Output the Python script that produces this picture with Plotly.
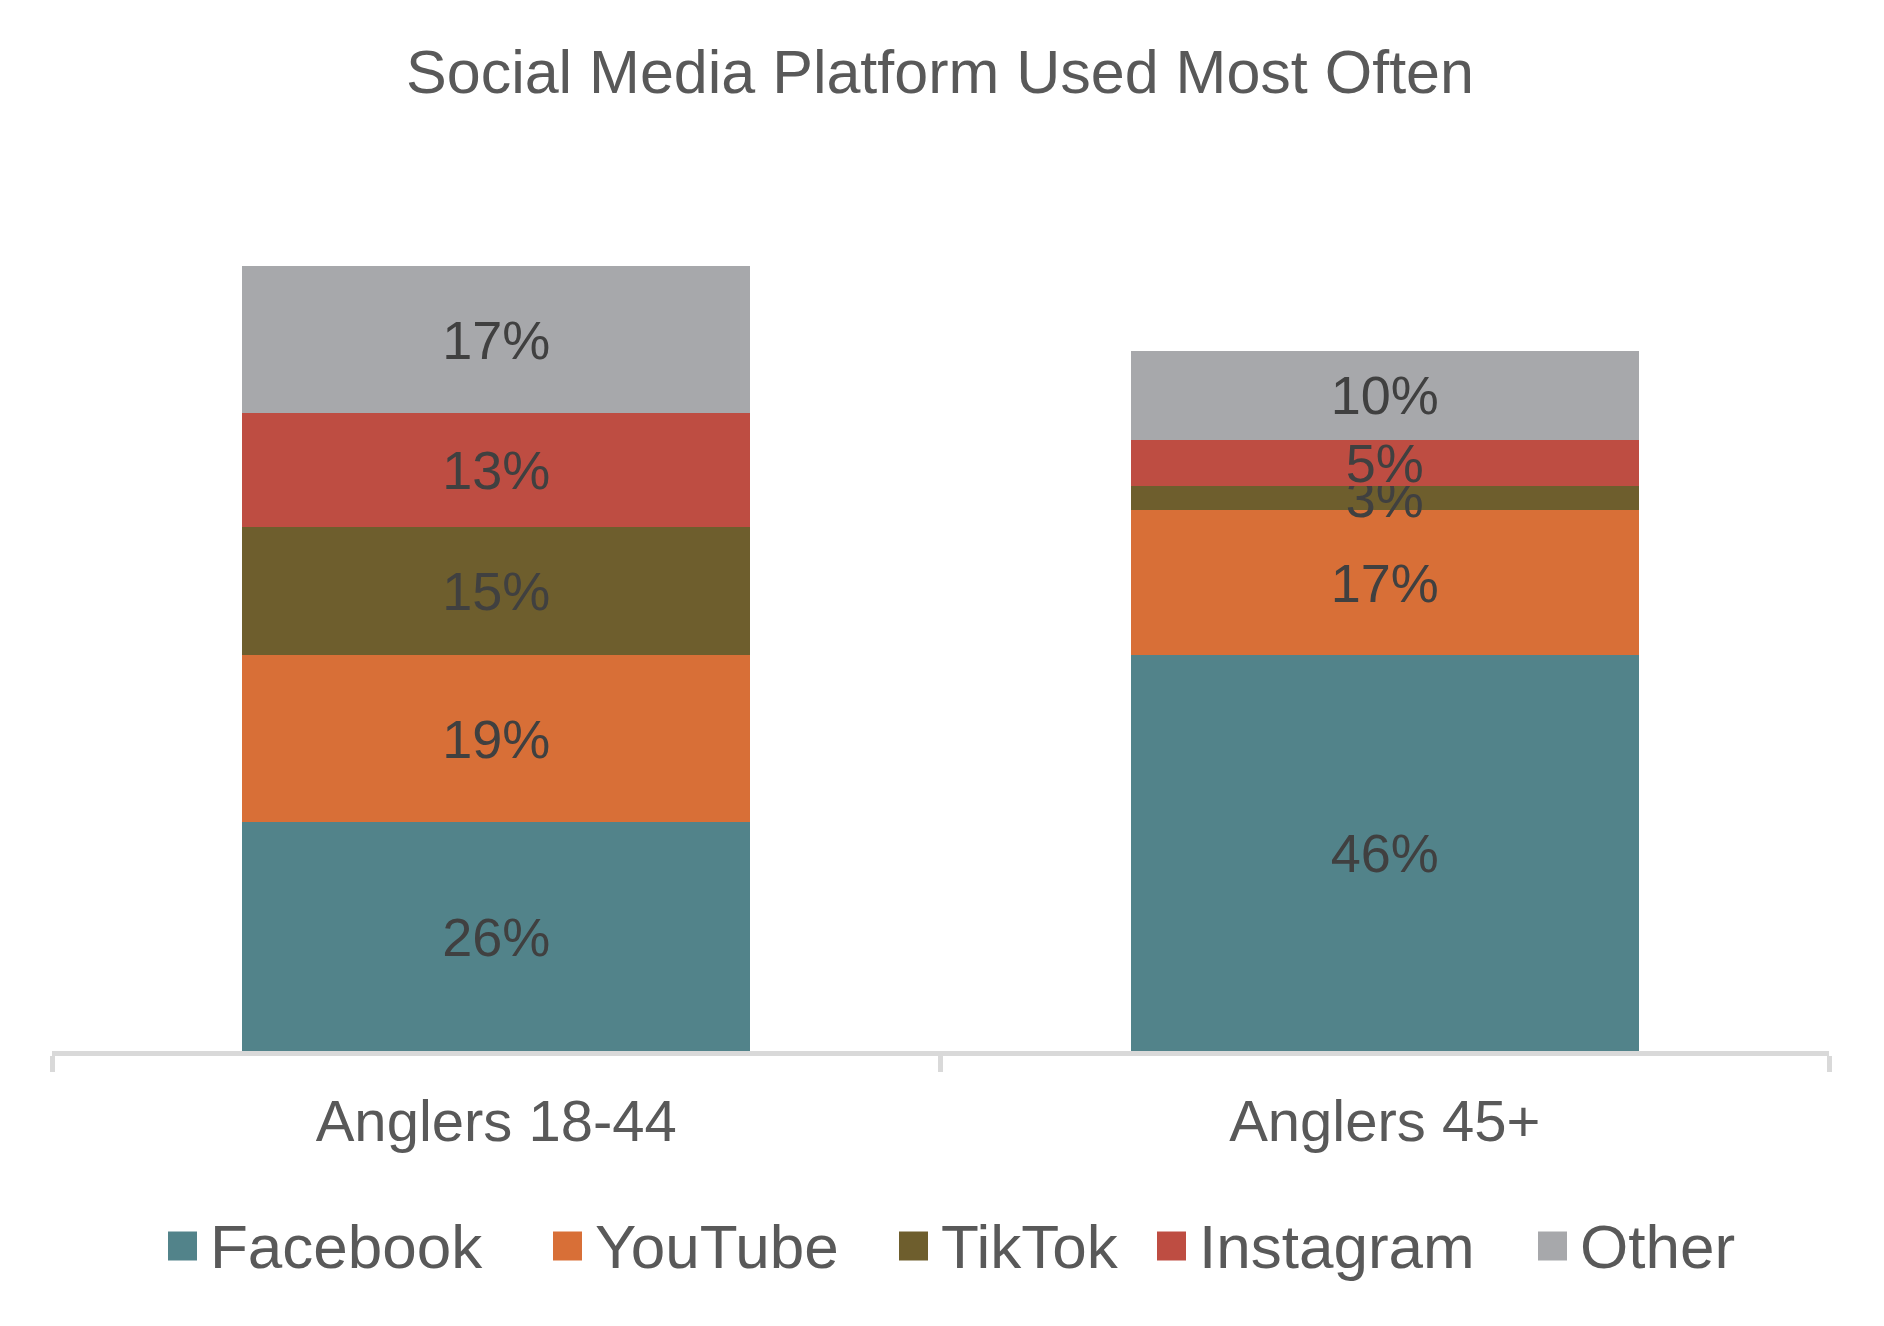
import plotly.graph_objects as go

# ---- data ----
categories = ["Anglers 18-44", "Anglers 45+"]
series_names = ["Facebook", "YouTube", "TikTok", "Instagram", "Other"]
facebook = [26.3, 45.5]
youtube = [19.2, 16.7]
tiktok = [14.7, 2.8]
instagram = [13.1, 5.2]
other = [16.9, 10.3]
series_values = [facebook, youtube, tiktok, instagram, other]

# ---- styles ----
colors = ["#52838A", "#D86F37", "#6E5E2D", "#BE4D42", "#A7A8AB"]
FONT = "Liberation Sans, Arial, sans-serif"
W, H = 1884, 1326
OFF = 8  # page body margin
ML, MT = 52 - OFF, 181 - OFF
PW, PH = 1777, 870
MR, MB = W - ML - PW, H - MT - PH

def px_x(x):
    return (x - OFF - ML) / PW

def px_y(y):
    return (MT + PH - (y - OFF)) / PH

fig = go.Figure()
for name, vals, col in zip(series_names, series_values, colors):
    fig.add_trace(go.Bar(
        x=categories, y=vals, name=name,
        marker=dict(color=col, line=dict(width=0)),
        text=[f"{v:.0f}%" for v in vals],
        textposition="inside", insidetextanchor="middle",
        textangle=0, constraintext="none",
        textfont=dict(family=FONT, size=54, color="#404040"),
        hoverinfo="skip", showlegend=False,
    ))

# custom legend (large square swatches)
legend_square_left = [168, 553, 899, 1157, 1538]
sq = 29
ly = 1246
for name, col, x0 in zip(series_names, colors, legend_square_left):
    fig.add_shape(type="rect", xref="paper", yref="paper",
                  x0=px_x(x0), x1=px_x(x0 + sq),
                  y0=px_y(ly + sq / 2), y1=px_y(ly - sq / 2),
                  fillcolor=col, line=dict(width=0))
    fig.add_annotation(xref="paper", yref="paper",
                       x=px_x(x0 + sq + 11), y=px_y(ly),
                       xanchor="left", yanchor="middle",
                       text=name, showarrow=False,
                       font=dict(family=FONT, size=62, color="#595959"))

fig.update_layout(
    width=W, height=H,
    margin=dict(l=ML, r=MR, t=MT, b=MB),
    barmode="stack", bargap=0.428,
    paper_bgcolor="white", plot_bgcolor="white",
    title=dict(text="Social Media Platform Used Most Often",
               x=(940 - OFF) / W, xanchor="center", y=1 - (72 - OFF) / H,
               yanchor="middle", yref="container", xref="container",
               font=dict(family=FONT, size=61, color="#595959")),
    xaxis=dict(range=[-0.5, 1.5], showline=True, linecolor="#D9D9D9",
               linewidth=5, ticks="outside", tickson="boundaries",
               ticklen=16, tickwidth=5, tickcolor="#D9D9D9",
               ticklabelstandoff=15,
               tickfont=dict(family=FONT, size=58, color="#595959"),
               showgrid=False, zeroline=False, fixedrange=True),
    yaxis=dict(range=[0, 100], visible=False, showgrid=False,
               zeroline=False, fixedrange=True),
    showlegend=False,
)

fig.write_html("out.html")
